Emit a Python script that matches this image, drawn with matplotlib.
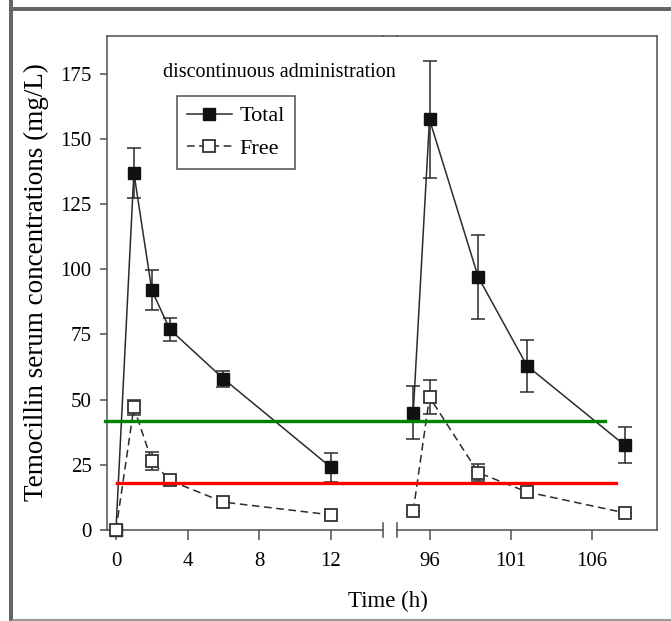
import matplotlib
matplotlib.use('Agg')
import matplotlib.pyplot as plt
from matplotlib.lines import Line2D
from matplotlib.patches import Rectangle
from matplotlib import transforms

plt.rcParams['font.family'] = ['Liberation Serif', 'DejaVu Serif']

# first day (h)
t_left = [0, 1, 2, 3, 6, 12]
total_left = [0, 137, 92, 77, 58, 24]
total_left_sd = [0, 9.5, 7.7, 4.5, 3, 5.5]
free_left = [0, 47, 26.5, 19, 10.7, 5.8]
free_left_sd = [0, 3, 3.5, 1, 0, 0]

# after repeated dosing (h)
t_right = [95, 96, 99, 102, 108]
total_right = [45, 157.5, 97, 63, 32.6]
total_right_sd = [10.2, 22.5, 16, 10, 7]
free_right = [7.3, 51, 22, 14.6, 6.6]
free_right_sd = [0, 6.5, 3.3, 1.5, 0]

xticks_left = [0, 4, 8, 12]
xticks_right = [96, 101, 106]
yticks = [0, 25, 50, 75, 100, 125, 150, 175]

# reference levels (mg/L)
green_level = 42
red_level = 18

W, H = 671, 621
fig = plt.figure(figsize=(W / 100, H / 100), dpi=100)


def fx(px):
    return px / W


def fy(py):
    return 1 - py / H


ax_bottom, ax_top = 530, 36
axl = fig.add_axes([fx(107), fy(ax_bottom), fx(383) - fx(107), fy(ax_top) - fy(ax_bottom)])
axr = fig.add_axes([fx(397), fy(ax_bottom), fx(657) - fx(397), fy(ax_top) - fy(ax_bottom)])

line_col = '#2b2b2b'
spine_col = '#505050'
fs = 15


def draw(ax, t, tot, tot_sd, fr, fr_sd):
    ax.errorbar(t, tot, yerr=tot_sd, fmt='none', ecolor=line_col, elinewidth=1.1,
                capsize=5, capthick=1.1, zorder=2, clip_on=False)
    ax.errorbar(t, fr, yerr=fr_sd, fmt='none', ecolor=line_col, elinewidth=1.1,
                capsize=5, capthick=1.1, zorder=2, clip_on=False)
    ax.plot(t, tot, '-', color=line_col, lw=1.1, marker='s', markersize=8.5,
            markerfacecolor='#111111', markeredgecolor='#111111', zorder=3,
            clip_on=False, label='Total')
    ax.plot(t, fr, '--', color=line_col, lw=1.1, dashes=(5, 3), marker='s', markersize=8.5,
            markerfacecolor='white', markeredgecolor='#333333', markeredgewidth=1.3,
            zorder=4, clip_on=False, label='Free')


draw(axl, t_left, total_left, total_left_sd, free_left, free_left_sd)
draw(axr, t_right, total_right, total_right_sd, free_right, free_right_sd)

axl.set_xlim(-0.5, 14.9)
axr.set_xlim(94, 110)
for ax in (axl, axr):
    ax.set_ylim(0, 189.5)
    ax.patch.set_visible(False)
    for s in ax.spines.values():
        s.set_color(spine_col)
        s.set_linewidth(1.1)
    ax.tick_params(axis='x', direction='out', length=7, width=1.1, color=spine_col,
                   labelsize=fs, pad=9)
    ax.tick_params(axis='y', direction='out', length=5, width=1.1, color=spine_col,
                   labelsize=fs, pad=6)

axl.spines['right'].set_visible(False)
axr.spines['left'].set_visible(False)
axl.set_xticks(xticks_left)
axr.set_xticks(xticks_right)
axl.set_yticks(yticks)
axr.set_yticks([])

# break marks on the time axis
axl.plot([1, 1], [-0.014, 0.014], transform=axl.transAxes, color=spine_col, lw=1.1, clip_on=False)
axr.plot([0, 0], [-0.014, 0.014], transform=axr.transAxes, color=spine_col, lw=1.1, clip_on=False)
# top frame over the gap
fig.add_artist(Line2D([fx(383), fx(397)], [fy(ax_top), fy(ax_top)], color=spine_col, lw=1.1))

axl.text(0.203, 0.927, 'discontinuous administration', transform=axl.transAxes,
         fontsize=14.5, ha='left', va='center')

leg = axl.legend(loc='upper left', bbox_to_anchor=(0.254, 0.879), borderaxespad=0,
                 fontsize=16, frameon=True, fancybox=False, handlelength=2.0,
                 handletextpad=0.35, borderpad=0.45, labelspacing=0.55)
leg.get_frame().set_edgecolor('#222222')
leg.get_frame().set_linewidth(1.1)

fig.text(fx(36), fy(282), 'Temocillin serum concentrations (mg/L)', rotation=90,
         ha='center', va='center', fontsize=19.5)
fig.text(fx(388), fy(601), 'Time (h)', ha='center', va='center', fontsize=16.5)

# green and red threshold lines drawn across the broken axis
blend = transforms.blended_transform_factory(fig.transFigure, axl.transData)
fig.add_artist(Line2D([fx(105), fx(605)], [green_level, green_level], transform=blend,
                      color='#008000', lw=2.4, zorder=10))
fig.add_artist(Line2D([fx(117), fx(616)], [red_level, red_level], transform=blend,
                      color='#ff0000', lw=2.4, zorder=10))

# page frame
fig.patches.append(Rectangle((fx(9), 0), fx(4), 1, transform=fig.transFigure,
                             facecolor='#666666', edgecolor='none'))
fig.patches.append(Rectangle((fx(9), fy(11)), 1, fy(7) - fy(11), transform=fig.transFigure,
                             facecolor='#666666', edgecolor='none'))
fig.add_artist(Line2D([fx(13), 1], [fy(619.5), fy(619.5)], color='#999999', lw=1.5))

fig.savefig('out.png', dpi=100)
